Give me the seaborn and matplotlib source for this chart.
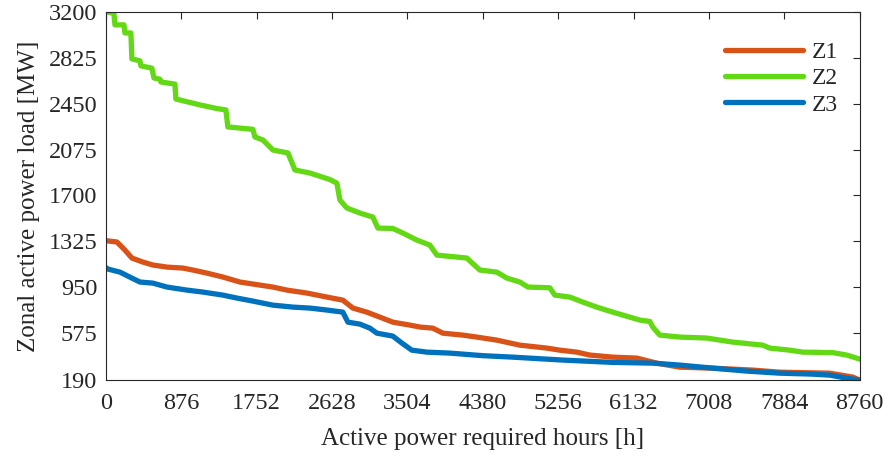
import numpy as np
import pandas as pd
import matplotlib
matplotlib.use("Agg")
import matplotlib.pyplot as plt
import seaborn as sns

# ---- data (hours, MW) ----
z1_hours = [0, 128, 221, 302, 430, 546, 709, 895, 1011, 1173, 1359, 1557, 1789, 1940, 2103,
            2335, 2568, 2753, 2870, 3032, 3183, 3334, 3532, 3648, 3799, 3915, 4148, 4310,
            4543, 4810, 5124, 5275, 5472, 5623, 5890, 6169, 6401, 6669, 7052, 7517, 7830,
            8411, 8679, 8760]
z1_load = [1330, 1319, 1253, 1188, 1155, 1131, 1114, 1106, 1090, 1065, 1033, 992, 967, 951, 926,
           902, 869, 844, 779, 746, 705, 664, 640, 624, 615, 574, 558, 542,
           517, 476, 452, 435, 419, 395, 378, 370, 329, 296, 288, 272, 255,
           247, 215, 190]

z2_hours = [0, 93, 105, 209, 221, 290, 302, 395, 407, 534, 558, 627, 639, 802, 813, 1092,
            1290, 1394, 1417, 1708, 1731, 1824, 1940, 2115, 2196, 2370, 2602, 2684, 2719,
            2800, 2951, 3102, 3160, 3334, 3451, 3613, 3764, 3846, 4194, 4345, 4543, 4659,
            4810, 4903, 5158, 5216, 5391, 5542, 5704, 5890, 6006, 6204, 6320, 6355, 6436,
            6669, 6982, 7284, 7633, 7714, 7947, 8098, 8446, 8609, 8760]
z2_load = [3200, 3190, 3094, 3094, 3028, 3028, 2816, 2800, 2759, 2740, 2660, 2650, 2627, 2610, 2488, 2440,
           2410, 2399, 2260, 2240, 2178, 2153, 2071, 2047, 1908, 1883, 1830, 1800, 1662,
           1597, 1556, 1523, 1433, 1430, 1392, 1335, 1294, 1212, 1188, 1090, 1073, 1024,
           992, 951, 945, 885, 869, 828, 787, 746, 722, 681, 670, 624, 558,
           542, 534, 501, 476, 452, 435, 419, 415, 395, 362]

z3_hours = [0, 23, 163, 302, 395, 546, 709, 941, 1127, 1359, 1522, 1708, 1940, 2173, 2370,
            2568, 2753, 2812, 2951, 3067, 3149, 3334, 3439, 3555, 3729, 3997, 4380, 4729,
            5309, 5890, 6355, 6669, 7052, 7447, 7830, 8214, 8411, 8609, 8760]
z3_load = [1110, 1098, 1073, 1024, 992, 983, 951, 926, 910, 885, 861, 836, 803, 787, 779,
           763, 746, 664, 648, 615, 574, 550, 493, 435, 419, 411, 390, 378,
           354, 335, 329, 313, 288, 264, 247, 239, 231, 206, 190]

zones = ["Z1", "Z2", "Z3"]
x_ticks = [0, 876, 1752, 2628, 3504, 4380, 5256, 6132, 7008, 7884, 8760]
y_ticks = [190, 575, 950, 1325, 1700, 2075, 2450, 2825, 3200]

df = pd.concat([
    pd.DataFrame({"hours": z1_hours, "load": z1_load, "zone": "Z1"}),
    pd.DataFrame({"hours": z2_hours, "load": z2_load, "zone": "Z2"}),
    pd.DataFrame({"hours": z3_hours, "load": z3_load, "zone": "Z3"}),
], ignore_index=True)

sns.set_style("white")
plt.rcParams["font.family"] = ["Liberation Serif", "DejaVu Serif"]

fig = plt.figure(figsize=(8.9, 4.58), dpi=100)
ax = fig.add_axes([0.119, 0.170, 0.847, 0.804])

palette = {"Z1": "#D95319", "Z2": "#63D814", "Z3": "#0072BD"}
sns.lineplot(data=df, x="hours", y="load", hue="zone", hue_order=zones, palette=palette,
             estimator=None, sort=False, linewidth=3.8, ax=ax)

ax.set_xlim(0, 8760)
ax.set_ylim(190, 3200)
ax.set_xticks(x_ticks)
ax.set_yticks(y_ticks)
ax.set_xticklabels([str(t) for t in x_ticks])
ax.set_yticklabels([str(t) for t in y_ticks])
ax.tick_params(direction="in", length=5, width=0.8, colors="#262626", labelsize=17.5,
               top=True, right=True, labelcolor="#262626")
ax.tick_params(axis="x", pad=9)
ax.tick_params(axis="y", pad=6)
for s in ax.spines.values():
    s.set_color("#262626")
    s.set_linewidth(0.8)
ax.set_xlabel("Active power required hours [h]", fontsize=18, color="#262626", labelpad=10)
ax.set_ylabel("Zonal active power load [MW]", fontsize=18, color="#262626", labelpad=6)

leg = ax.legend(loc="upper right", bbox_to_anchor=(1.0, 0.977), frameon=False, fontsize=17,
                handlelength=3.3, handletextpad=0.4, labelspacing=0.2)
for line in leg.get_lines():
    line.set_linewidth(3.8)

fig.savefig("out.png", dpi=100)
